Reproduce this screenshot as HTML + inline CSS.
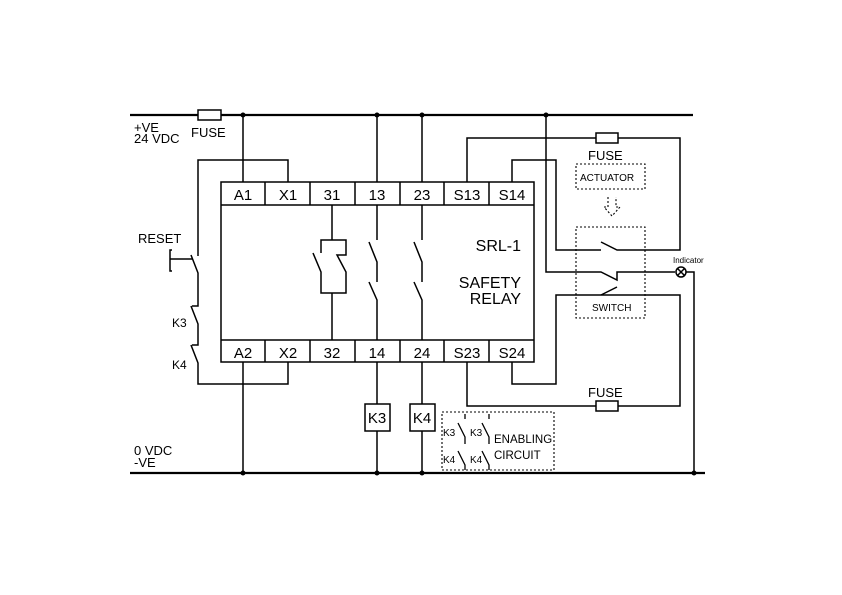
<!DOCTYPE html>
<html><head><meta charset="utf-8"><style>html,body{margin:0;padding:0;background:#fff}svg{display:block}</style></head><body>
<svg width="842" height="595" viewBox="0 0 842 595" xmlns="http://www.w3.org/2000/svg" font-family="Liberation Sans, Arial, sans-serif">
<g fill="none" stroke="#000" stroke-width="1.5">
<line x1="130" y1="115" x2="693" y2="115" stroke-width="2.2"/>
<line x1="130" y1="473" x2="705" y2="473" stroke-width="2.2"/>
<rect x="198" y="110" width="23" height="10" fill="#fff"/>
<rect x="221" y="182" width="313" height="180"/>
<line x1="221" y1="205" x2="534" y2="205"/>
<line x1="221" y1="340" x2="534" y2="340"/>
<path d="M265 182V205M310 182V205M355 182V205M400 182V205M444 182V205M489 182V205"/>
<path d="M265 340V362M310 340V362M355 340V362M400 340V362M444 340V362M489 340V362"/>
<path d="M243 115V182M377 115V182M422 115V182M546 115V272H601L617 280V272H675"/>
<path d="M243 362V473M377 362V404M377 431V473M422 362V404M422 431V473"/>
<rect x="365" y="404" width="25" height="27"/>
<rect x="410" y="404" width="25" height="27"/>
<path d="M288 182V160H198V256M191 255L198 273V306H192M191 306L198 324V345H192M191 345L198 363V384H288V362"/>
<path d="M172 250H170V271H172M170 259H193"/>
<path d="M332 205V240H321V253M313 253L321 272V293H346V272L337 255H346V240H332M332 293V340"/>
<path d="M377 205V240M369 242L377 262V282M369 282L377 300V340"/>
<path d="M422 205V240M414 242L422 262V282M414 282L422 300V340"/>
<path d="M467 182V138H596M618 138H680V250H617L601 242M601 250H556V160H512V182"/>
<rect x="596" y="133" width="22" height="10"/>
<path d="M512 362V384H556V295H680V406H618M596 406H467V362"/>
<rect x="596" y="401" width="22" height="10"/>
<path d="M601 295L617 287"/>
<circle cx="681" cy="272" r="5"/>
<path d="M677.5 268.5L684.5 275.5M684.5 268.5L677.5 275.5M686 272H694V473"/>
<g stroke-dasharray="2,2" stroke-width="1.1">
<rect x="576" y="164" width="69" height="25"/>
<rect x="576" y="227" width="69" height="91"/>
<rect x="442" y="412" width="112" height="58"/>
<path d="M608 197V207H604L612 216L620 207H616V197"/>
</g>
<path d="M465 414V419M458 423L465 437V444M458 451L465 465V470M489 414V419M482 423L489 437V444M482 451L489 465V470" stroke-width="1.3"/>
</g>
<g fill="#000">
<circle cx="243" cy="115" r="2.5"/><circle cx="377" cy="115" r="2.5"/><circle cx="422" cy="115" r="2.5"/><circle cx="546" cy="115" r="2.5"/>
<circle cx="243" cy="473" r="2.5"/><circle cx="377" cy="473" r="2.5"/><circle cx="422" cy="473" r="2.5"/><circle cx="694" cy="473" r="2.5"/>
</g>
<g font-size="15" text-anchor="middle">
<text x="243" y="200">A1</text><text x="288" y="200">X1</text><text x="332" y="200">31</text><text x="377" y="200">13</text><text x="422" y="200">23</text><text x="467" y="200">S13</text><text x="512" y="200">S14</text>
<text x="243" y="358">A2</text><text x="288" y="358">X2</text><text x="332" y="358">32</text><text x="377" y="358">14</text><text x="422" y="358">24</text><text x="467" y="358">S23</text><text x="512" y="358">S24</text>
<text x="377" y="423">K3</text><text x="422" y="423">K4</text>
</g>
<g font-size="16" text-anchor="end">
<text x="521" y="251">SRL-1</text><text x="521" y="288">SAFETY</text><text x="521" y="304">RELAY</text>
</g>
<g font-size="13">
<text x="134" y="132">+VE</text><text x="134" y="143">24 VDC</text>
<text x="191" y="137">FUSE</text>
<text x="588" y="160">FUSE</text>
<text x="588" y="397">FUSE</text>
<text x="138" y="243">RESET</text>
<text x="134" y="455">0 VDC</text><text x="134" y="467">-VE</text>
</g>
<g font-size="12">
<text x="172" y="327">K3</text><text x="172" y="369">K4</text>
</g>
<g font-size="11.5">
<text x="494" y="443">ENABLING</text><text x="494" y="459">CIRCUIT</text>
</g>
<g font-size="10">
<text x="580" y="181">ACTUATOR</text>
<text x="592" y="311">SWITCH</text>
<text x="443" y="436">K3</text><text x="470" y="436">K3</text>
<text x="443" y="463">K4</text><text x="470" y="463">K4</text>
</g>
<text x="673" y="263" font-size="8">Indicator</text>
</svg>
</body></html>
